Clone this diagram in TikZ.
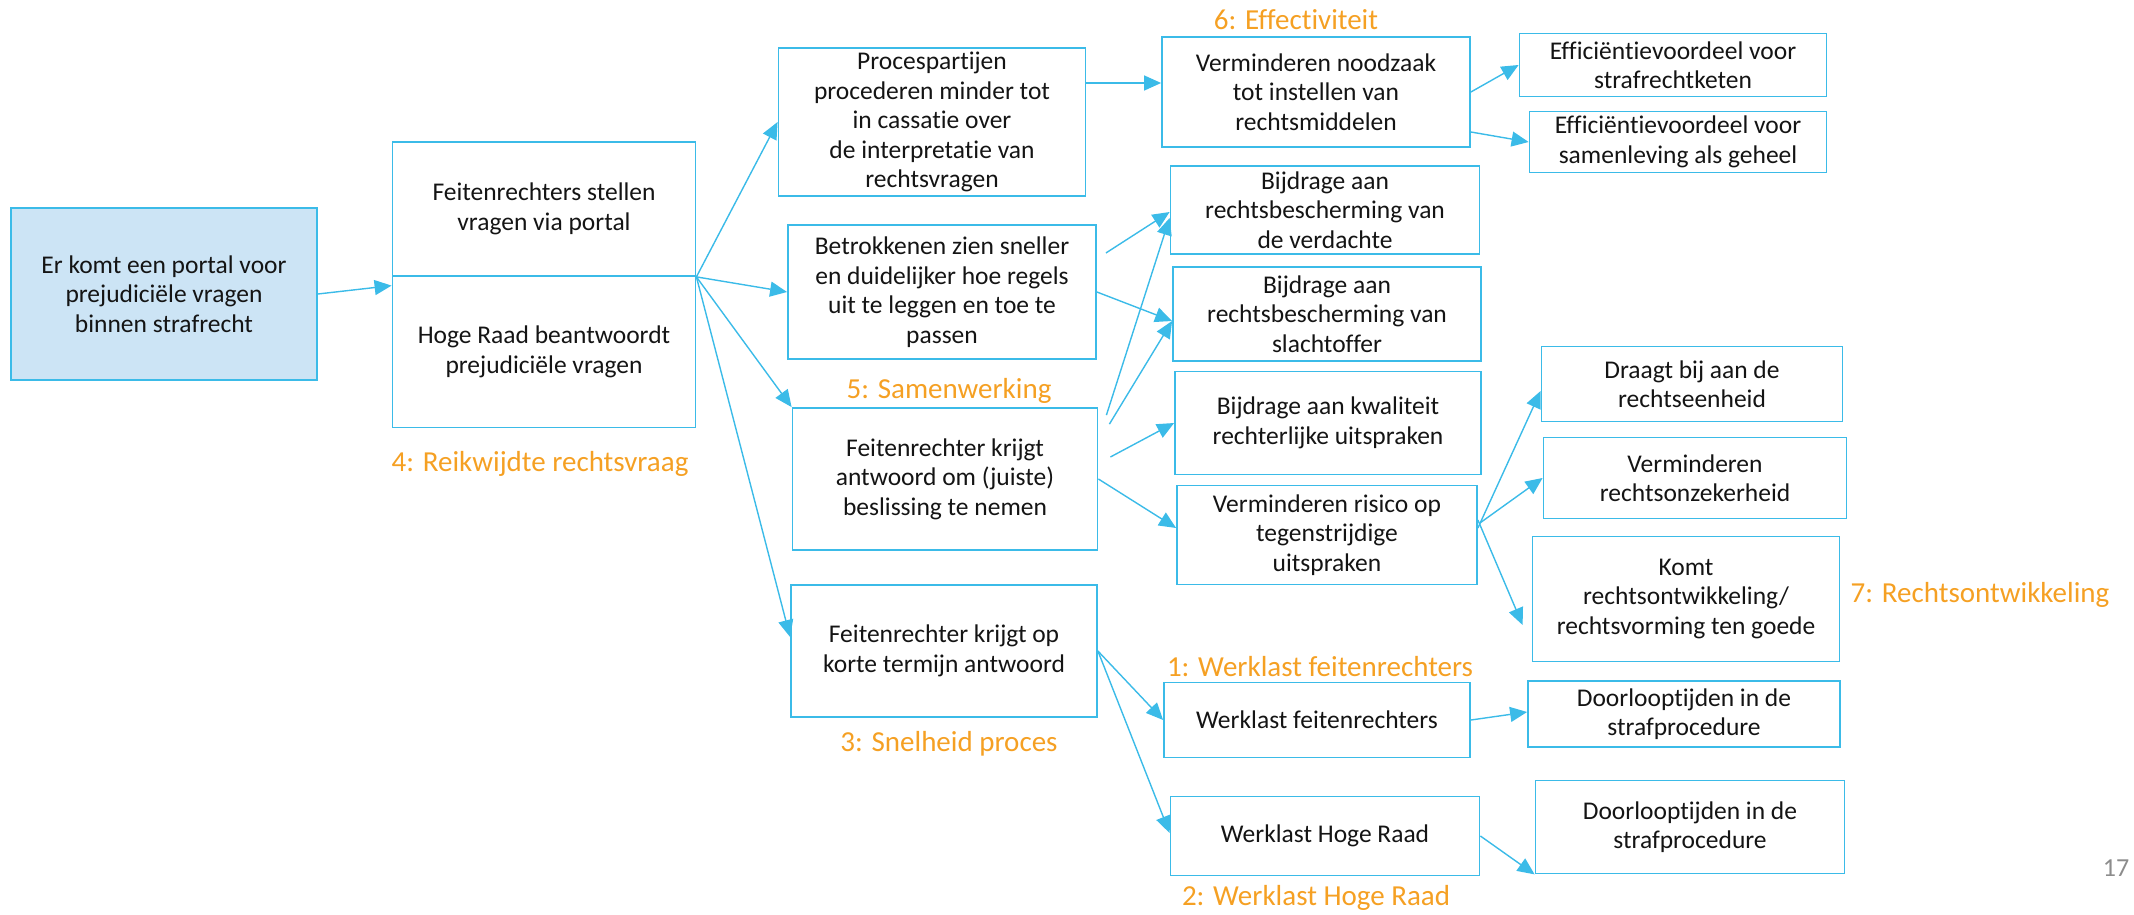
\documentclass[tikz,border=0pt]{standalone}
\usepackage{fontspec}
\setmainfont{Carlito}[Ligatures=NoCommon]
\usepackage{tikz}
\usetikzlibrary{arrows.meta}

\definecolor{lijnblauw}{RGB}{59,187,232}
\definecolor{vulblauw}{RGB}{204,228,245}
\definecolor{oranje}{RGB}{245,160,35}

\begin{document}
\begin{tikzpicture}[x=1pt,y=-1pt]
          \tikzstyle{box}=[draw=lijnblauw,line width=1.8pt,align=center,inner sep=2pt,
                           font=\fontsize{25.5}{29.5}\selectfont,text=black!92]
          \tikzstyle{lbl}=[text=oranje,font=\fontsize{29}{33}\selectfont]
          \tikzstyle{arr}=[color=lijnblauw,line width=1.4pt,-{Triangle[length=17pt,width=15pt]}]

          \useasboundingbox (0,0) rectangle (2134,915);

          % kolom 1 en 2
          \node[box,fill=vulblauw,minimum width=306pt,minimum height=172pt] (start) at (164,294)
                {Er komt een portal voor\\prejudiciële vragen\\binnen strafrecht};
          \node[box,minimum width=303pt,minimum height=134pt] (fr) at (544,209)
                {Feitenrechters stellen\\vragen via portal};
          \node[box,minimum width=303pt,minimum height=151pt] (hr) at (544,352)
                {Hoge Raad beantwoordt\\prejudiciële vragen};
          \node[lbl] (l4) at (540,464) {4: Reikwijdte rechtsvraag};
          \coordinate (hub) at (fr.south east);

          % kolom 3
          \node[box,minimum width=307pt,minimum height=148pt] (proces) at (932,122)
                {Procespartijen\\procederen minder tot\\in cassatie over\\de interpretatie van\\rechtsvragen};
          \node[box,minimum width=308pt,minimum height=134pt] (betrok) at (942,292)
                {Betrokkenen zien sneller\\en duidelijker hoe regels\\uit te leggen en toe te\\passen};
          \node[lbl] (l5) at (949,391) {5: Samenwerking};
          \node[box,minimum width=305pt,minimum height=142pt] (antwoord) at (945,479)
                {Feitenrechter krijgt\\antwoord om (juiste)\\beslissing te nemen};
          \node[box,minimum width=306pt,minimum height=132pt] (korte) at (944,651)
                {Feitenrechter krijgt op\\korte termijn antwoord};
          \node[lbl] (l3) at (949,744) {3: Snelheid proces};

          % kolom 4
          \node[lbl] (l6) at (1296,20) {6: Effectiviteit};
          \node[box,minimum width=308pt,minimum height=110pt] (noodzaak) at (1316,92)
                {Verminderen noodzaak\\tot instellen van\\rechtsmiddelen};
          \node[box,minimum width=309pt,minimum height=88pt] (verd) at (1325,210)
                {Bijdrage aan\\rechtsbescherming van\\de verdachte};
          \node[box,minimum width=308pt,minimum height=94pt] (slacht) at (1327,314)
                {Bijdrage aan\\rechtsbescherming van\\slachtoffer};
          \node[box,minimum width=306pt,minimum height=103pt] (kwal) at (1328,423)
                {Bijdrage aan kwaliteit\\rechterlijke uitspraken};
          \node[box,minimum width=300pt,minimum height=99pt] (risico) at (1327,535)
                {Verminderen risico op\\tegenstrijdige\\uitspraken};
          \node[lbl] (l1) at (1320,667) {1: Werklast feitenrechters};
          \node[box,minimum width=306pt,minimum height=75pt] (wf) at (1317,720)
                {Werklast feitenrechters};
          \node[box,minimum width=309pt,minimum height=79pt] (whr) at (1325,836)
                {Werklast Hoge Raad};
          \node[lbl] (l2) at (1316,898) {2: Werklast Hoge Raad};

          % kolom 5
          \node[box,minimum width=307pt,minimum height=63pt] (eff1) at (1673,65)
                {Efficiëntievoordeel voor\\strafrechtketen};
          \node[box,minimum width=297pt,minimum height=61pt] (eff2) at (1678,142)
                {Efficiëntievoordeel voor\\samenleving als geheel};
          \node[box,minimum width=301pt,minimum height=75pt] (eenheid) at (1692,384)
                {Draagt bij aan de\\rechtseenheid};
          \node[box,minimum width=303pt,minimum height=81pt] (onzeker) at (1695,478)
                {Verminderen\\rechtsonzekerheid};
          \node[box,minimum width=307pt,minimum height=125pt] (ontw) at (1686,599)
                {Komt\\rechtsontwikkeling/\\rechtsvorming ten goede};
          \node[lbl] (l7) at (1980,595) {7: Rechtsontwikkeling};
          \node[box,minimum width=312pt,minimum height=66pt] (doorl1) at (1684,714)
                {Doorlooptijden in de\\strafprocedure};
          \node[box,minimum width=309pt,minimum height=93pt] (doorl2) at (1690,827)
                {Doorlooptijden in de\\strafprocedure};

          \node[text=black!45,font=\fontsize{26}{30}\selectfont] (pagina) at (2116,868) {17};

          \path[arr]
          (start.east) edge ([yshift=-10pt]hr.north west)
          (hub)        edge (proces.west)
                       edge (betrok.west)
                       edge (antwoord.north west)
                       edge ([yshift=14pt]korte.west)
          ([yshift=9pt]noodzaak.west -| proces.east) edge ([yshift=9pt]noodzaak.west)
          (noodzaak.east) edge (eff1.west)
          ([yshift=-40pt]noodzaak.east) edge (eff2.west)
          ([xshift=9pt,yshift=39pt]betrok.east) edge ([yshift=-2pt]verd.west)
          (betrok.east) edge ([yshift=-7pt]slacht.west)
          ([xshift=8pt,yshift=-8pt]antwoord.north east) edge ([yshift=-8pt]verd.west)
          ([xshift=11pt,yshift=-17pt]antwoord.north east) edge ([yshift=-7pt]slacht.west)
          ([xshift=12pt,yshift=22pt]antwoord.east) edge (kwal.west)
          (antwoord.east) edge ([yshift=7pt]risico.west)
          (korte.east) edge (wf.west)
                       edge ([yshift=3pt]whr.west)
          ([yshift=7pt]risico.east) edge ([yshift=-7pt]eenheid.west)
          ([xshift=2pt,yshift=12pt]risico.east) edge (onzeker.west)
          ([yshift=15pt]risico.east) edge ([xshift=-9pt,yshift=-26pt]ontw.west)
          (wf.east) edge ([yshift=2pt]doorl1.west)
          (whr.east) edge (doorl2.south west);
        \end{tikzpicture}
\end{document}
